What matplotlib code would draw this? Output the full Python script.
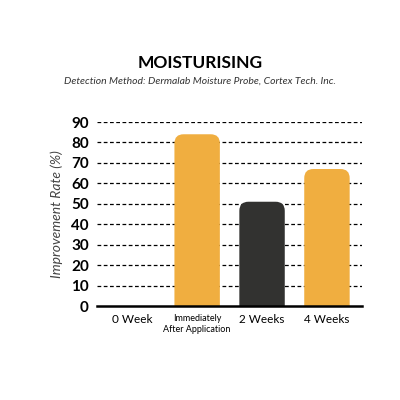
import matplotlib
matplotlib.use("Agg")
import matplotlib.pyplot as plt
from matplotlib.patches import FancyBboxPatch

categories = ["0 Week", "Immediately\nAfter Application", "2 Weeks", "4 Weeks"]
values = [0, 84, 51, 67]
colors = ["#F0AE40", "#F0AE40", "#323230", "#F0AE40"]
yticks = [0, 10, 20, 30, 40, 50, 60, 70, 80, 90]

plt.rcParams['font.family'] = ['Lato', 'DejaVu Sans']

fig = plt.figure(figsize=(4, 4), dpi=100)
ax = fig.add_axes([0.243, 0.235, 0.662, 0.46])
ax.set_xlim(-0.54, 3.54)
ax.set_ylim(0, 90)

# dashed grid
for t in yticks[1:]:
    ax.axhline(t, color="black", lw=0.9, ls=(0, (3, 2)), zorder=1)

w = 0.7
aspect = (90 / 184) / (4.08 / 265)
for i, (v, c) in enumerate(zip(values, colors)):
    if v <= 0:
        continue
    p = FancyBboxPatch((i - w / 2, -5), w, v + 5,
                       boxstyle="round,pad=0,rounding_size=0.14",
                       mutation_aspect=aspect, fc=c, ec="none", zorder=2)
    ax.add_patch(p)

ax.set_yticks(yticks)
ax.set_yticklabels([str(t) for t in yticks], fontsize=11, fontweight="bold")
ax.set_xticks(range(len(categories)))
ax.set_xticklabels(categories)
for i, lab in enumerate(ax.get_xticklabels()):
    lab.set_fontsize(6.5 if i == 1 else 8.5)
ax.tick_params(length=0, pad=6)
for s in ["top", "right", "left"]:
    ax.spines[s].set_visible(False)
ax.spines["bottom"].set_linewidth(1.8)
ax.spines["bottom"].set_zorder(3)

ax.set_ylabel("Improvement Rate (%)", fontsize=10, style="italic", color="#444444", labelpad=6)

fig.text(0.5, 0.83, "MOISTURISING", ha="center", fontsize=12.5, fontweight="bold")
fig.text(0.5, 0.79, "Detection Method: Dermalab Moisture Probe, Cortex Tech. Inc.",
         ha="center", fontsize=7.5, style="italic", color="#333333")

fig.savefig("out.png", dpi=100)
